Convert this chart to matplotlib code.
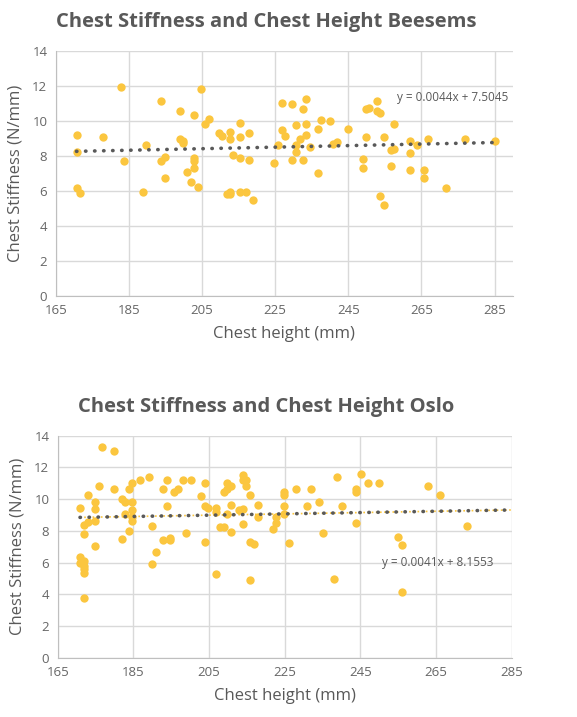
import matplotlib.pyplot as plt
import numpy as np

plt.rcParams['font.family'] = ['Open Sans', 'DejaVu Sans']

# Beesems data (chest height mm, chest stiffness N/mm)
beesems_height = [170.7, 170.7, 170.7, 171.6, 178.0, 182.9, 183.8, 188.8, 189.7, 193.7,
                  193.7, 194.9, 194.9, 199.0, 199.0, 199.9, 199.9, 201.0, 201.9, 202.9,
                  202.9, 202.9, 202.9, 203.9, 204.8, 205.9, 206.8, 209.7, 210.6, 212.6,
                  212.6, 213.5, 211.7, 212.6, 212.6, 215.5, 215.5, 215.5, 215.5, 217.0,
                  217.9, 217.9, 219.0, 224.8, 225.9, 226.8, 226.8, 227.7, 229.7, 229.7,
                  230.6, 230.6, 230.6, 231.7, 232.6, 232.6, 233.5, 233.5, 233.5, 234.6,
                  236.6, 236.6, 237.5, 239.9, 240.9, 241.9, 244.9, 248.9, 248.9, 249.8,
                  249.8, 250.7, 252.7, 252.7, 253.6, 253.6, 254.7, 254.7, 256.7, 256.7,
                  257.6, 257.6, 261.8, 261.8, 261.8, 263.8, 265.8, 265.8, 266.9, 271.8,
                  276.8, 285.0]
beesems_stiff = [9.21, 8.22, 6.14, 5.88, 9.05, 11.95, 7.70, 5.95, 8.60, 11.11,
                 7.70, 7.91, 6.71, 10.58, 8.98, 8.86, 8.71, 7.10, 6.49, 10.35,
                 7.86, 7.72, 7.32, 6.20, 11.79, 9.82, 10.12, 9.28, 9.13, 9.36,
                 8.94, 8.07, 5.80, 5.95, 5.80, 9.89, 9.05, 7.86, 5.95, 5.95,
                 9.28, 7.78, 5.50, 7.61, 8.60, 11.03, 9.47, 9.13, 10.96, 7.76,
                 9.74, 8.22, 8.60, 8.98, 10.65, 7.76, 11.26, 9.82, 9.21, 8.48,
                 9.51, 7.02, 10.04, 9.97, 8.67, 8.79, 9.51, 7.84, 7.32, 10.65,
                 9.05, 10.73, 11.11, 10.58, 10.42, 5.73, 9.05, 5.19, 8.33, 7.40,
                 8.37, 9.82, 8.83, 8.14, 7.17, 8.60, 7.17, 6.71, 8.98, 6.18,
                 8.98, 8.83]

# Oslo data
oslo_height = [170.9, 170.9, 170.9, 172.0, 172.0, 172.0, 172.0, 172.0, 172.0, 172.0,
               172.9, 172.9, 174.8, 174.8, 174.8, 174.8, 175.9, 176.8, 180.0, 180.0,
               181.9, 181.9, 182.9, 182.9, 183.8, 183.8, 184.7, 184.7, 184.7, 184.7,
               184.7, 186.8, 189.1, 190.0, 190.0, 190.9, 192.8, 192.8, 193.9, 193.9,
               194.8, 194.8, 195.8, 196.9, 198.0, 199.0, 200.1, 202.9, 203.8, 203.8,
               203.8, 204.8, 206.9, 206.9, 206.9, 208.0, 208.9, 208.9, 209.8, 209.8,
               209.8, 210.8, 210.8, 210.8, 212.8, 213.9, 213.9, 213.9, 213.9, 214.7,
               214.7, 215.9, 215.9, 215.9, 217.0, 217.9, 217.9, 221.9, 222.8, 222.8,
               224.8, 224.8, 224.8, 224.8, 226.0, 228.0, 231.0, 231.9, 234.0, 235.0,
               238.0, 238.9, 240.0, 243.9, 243.9, 243.9, 245.1, 247.0, 249.9, 255.0,
               256.0, 256.0, 262.9, 266.1, 273.2]
oslo_stiff = [9.47, 6.34, 6.00, 6.11, 5.81, 5.60, 5.37, 3.76, 7.81, 8.38,
              10.26, 8.59, 9.80, 9.36, 8.63, 7.05, 10.83, 13.27, 13.01, 10.64,
              10.01, 7.49, 9.84, 9.05, 10.64, 8.02, 11.04, 9.80, 9.32, 8.90,
              8.65, 11.21, 11.42, 8.33, 5.90, 6.65, 10.64, 7.43, 11.21, 9.59,
              7.58, 7.43, 10.45, 10.64, 11.21, 7.87, 11.21, 10.18, 11.04, 9.59,
              7.30, 9.47, 9.47, 9.21, 5.31, 8.27, 8.27, 10.45, 11.04, 9.05,
              10.64, 10.83, 9.61, 7.96, 9.32, 11.50, 11.21, 9.40, 8.44, 11.21,
              10.83, 10.26, 7.30, 4.93, 7.18, 9.61, 8.86, 8.14, 8.86, 8.48,
              10.45, 10.26, 9.59, 9.05, 7.22, 10.64, 9.59, 10.64, 9.80, 7.87,
              5.00, 11.42, 9.59, 10.64, 10.45, 8.52, 11.61, 11.04, 11.04, 7.64,
              7.12, 4.16, 10.83, 10.26, 8.33]

# trendline equations as shown in the chart
beesems_fit = (0.0044, 7.5045)
oslo_fit = (0.0041, 8.1553)

gray = '#595959'
gold = '#FBC63F'

fig = plt.figure(figsize=(5.77, 7.17), dpi=100)
ax1 = fig.add_axes([0.0965, 0.5872, 0.7925, 0.3421])
ax2 = fig.add_axes([0.1, 0.0823, 0.787, 0.31])


def style_axes(ax, xmax):
    ax.set_xlim(165, xmax)
    ax.set_ylim(0, 14)
    ax.set_xticks(np.arange(165, 286, 20))
    ax.set_yticks(np.arange(0, 15, 2))
    ax.grid(True, color='#D9D9D9', linewidth=1)
    ax.set_axisbelow(True)
    for s in ['top', 'right']:
        ax.spines[s].set_visible(False)
    for s in ['left', 'bottom']:
        ax.spines[s].set_color('#BFBFBF')
    ax.tick_params(length=0, labelsize=9.5, colors='#666666', pad=6)
    ax.set_xlabel('Chest height (mm)', fontsize=12, color=gray, labelpad=6)
    ax.set_ylabel('Chest Stiffness (N/mm)', fontsize=12, color=gray, labelpad=6)


# Beesems
style_axes(ax1, 290)
ax1.scatter(beesems_height, beesems_stiff, s=36, color=gold, zorder=3, linewidths=0)
xs = np.array([min(beesems_height), max(beesems_height)])
ax1.plot(xs, beesems_fit[0] * xs + beesems_fit[1], color=gray, lw=2.6,
         linestyle=(0, (0.1, 2.4)), dash_capstyle='round', zorder=4)
ax1.text(0.99, 0.81, 'y = 0.0044x + 7.5045', transform=ax1.transAxes,
         ha='right', va='center', fontsize=8.5, color=gray)
ax1.set_title('Chest Stiffness and Chest Height Beesems', fontsize=14.5,
              fontweight='bold', color=gray, pad=17, x=0.46)

# Oslo
style_axes(ax2, 285)
ax2.scatter(oslo_height, oslo_stiff, s=36, color=gold, zorder=3, linewidths=0)
xs = np.array([min(oslo_height), 285])
ax2.plot(xs, oslo_fit[0] * xs + oslo_fit[1], color=gold, lw=1.2,
         linestyle=(0, (1, 1.5)), zorder=4)
ax2.plot(xs, oslo_fit[0] * xs + oslo_fit[1], color=gray, lw=2.6,
         linestyle=(0, (0.1, 2.4)), dash_capstyle='round', zorder=5)
ax2.text(0.96, 0.43, 'y = 0.0041x + 8.1553', transform=ax2.transAxes,
         ha='right', va='center', fontsize=8.5, color=gray)
ax2.set_title('Chest Stiffness and Chest Height Oslo', fontsize=14.5,
              fontweight='bold', color=gray, pad=17, x=0.46)

fig.savefig('out.png', dpi=100)
